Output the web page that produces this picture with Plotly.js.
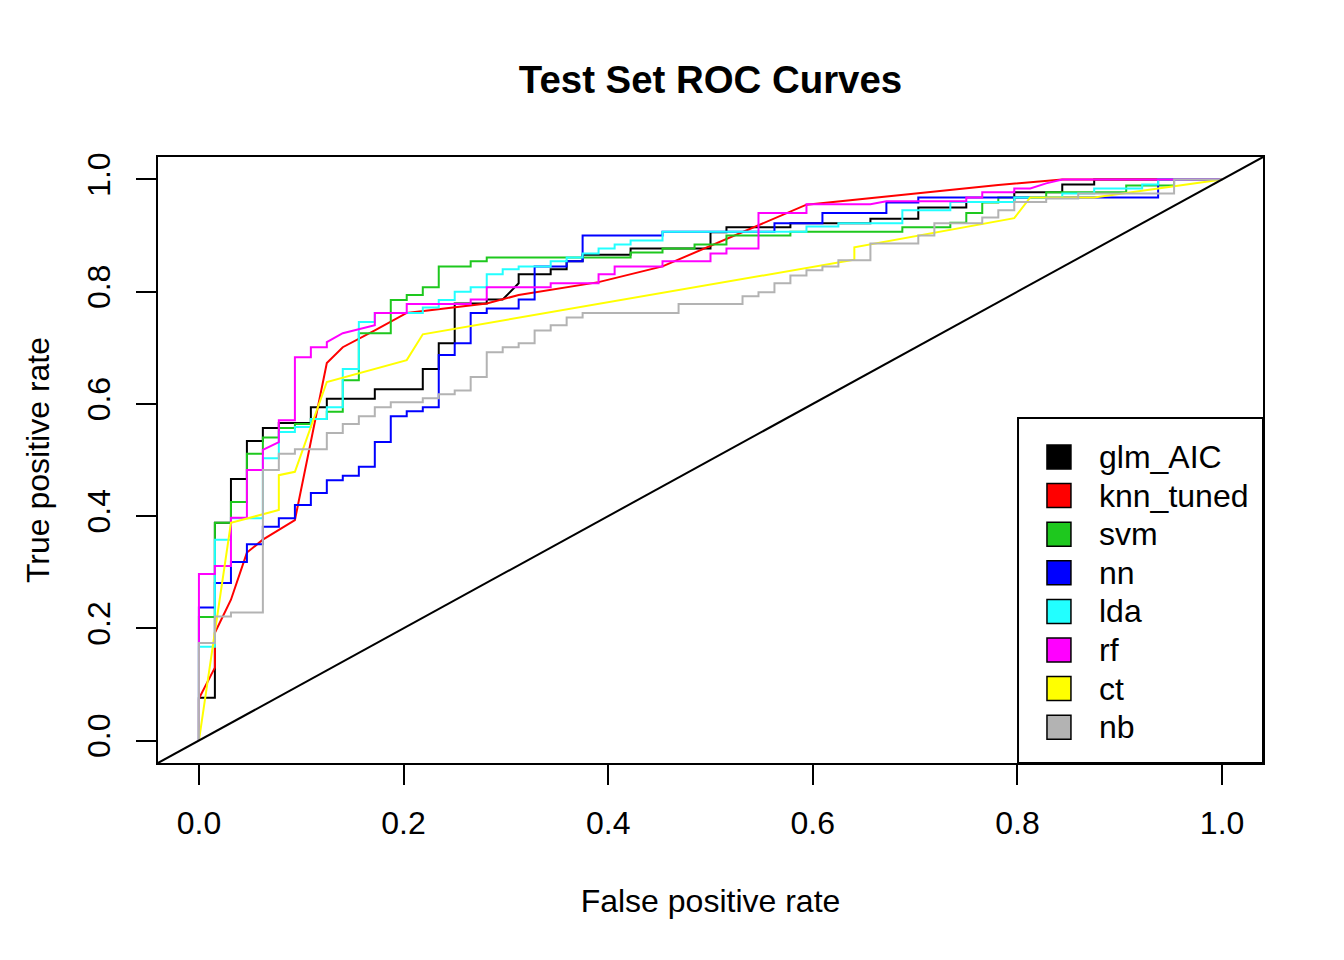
<!DOCTYPE html>
<html><head><meta charset="utf-8">
<script src="https://cdn.plot.ly/plotly-3.0.1.min.js"></script>
<style>html,body{margin:0;padding:0;background:#fff}#chart{width:1344px;height:960px}</style>
</head><body><div id="chart"></div>
<script>
// ---- data ----
const seriesNames = ["glm_AIC","knn_tuned","svm","nn","lda","rf","ct","nb"];
const seriesColors = ["#000000","#FF0000","#1EC81E","#0000FF","#22FFFF","#FF00FF","#FFFF00","#B3B3B3"];
const tickVals = [0,0.2,0.4,0.6,0.8,1.0];
const tickText = ["0.0","0.2","0.4","0.6","0.8","1.0"];
const axisRange = [-0.04,1.04];

// each entry: [false positive rate, true positive rate]
const glm = [[0,0],[0,0.0765],[0.0156,0.0765],[0.0156,0.388],[0.0313,0.388],[0.0313,0.466],[0.0469,0.466],[0.0469,0.534],[0.0625,0.534],[0.0625,0.557],[0.0781,0.557],[0.0781,0.566],[0.1094,0.566],[0.1094,0.594],[0.125,0.594],[0.125,0.609],[0.1719,0.609],[0.1719,0.626],[0.2188,0.626],[0.2188,0.662],[0.2344,0.662],[0.2344,0.708],[0.25,0.708],[0.25,0.779],[0.2813,0.779],[0.2813,0.786],[0.2969,0.786],[0.3125,0.815],[0.3125,0.831],[0.3438,0.831],[0.3438,0.84],[0.3594,0.84],[0.3594,0.854],[0.375,0.854],[0.375,0.866],[0.4219,0.866],[0.4219,0.877],[0.5,0.877],[0.5,0.906],[0.5156,0.906],[0.5156,0.915],[0.5781,0.915],[0.5781,0.922],[0.6563,0.922],[0.6563,0.93],[0.7031,0.93],[0.7031,0.95],[0.75,0.95],[0.75,0.96],[0.7969,0.96],[0.7969,0.977],[0.8438,0.977],[0.8438,0.991],[0.875,0.991],[0.875,1],[1,1]];
const knn = [[0,0],[0,0.075],[0.0156,0.13],[0.0156,0.192],[0.0313,0.251],[0.0469,0.335],[0.0625,0.358],[0.0938,0.393],[0.125,0.673],[0.1406,0.701],[0.1719,0.731],[0.2031,0.762],[0.2813,0.779],[0.3125,0.794],[0.3906,0.817],[0.4531,0.845],[0.5938,0.955],[0.7813,0.99],[0.8438,1],[1,1]];
const svm = [[0,0],[0,0.22],[0.0156,0.22],[0.0156,0.388],[0.0313,0.388],[0.0313,0.425],[0.0469,0.425],[0.0469,0.511],[0.0625,0.511],[0.0625,0.54],[0.0781,0.54],[0.0781,0.557],[0.0938,0.557],[0.0938,0.564],[0.1094,0.564],[0.1094,0.573],[0.125,0.573],[0.125,0.586],[0.1406,0.586],[0.1406,0.642],[0.1563,0.642],[0.1563,0.726],[0.1875,0.726],[0.1875,0.785],[0.2031,0.785],[0.2031,0.794],[0.2188,0.794],[0.2188,0.808],[0.2344,0.808],[0.2344,0.845],[0.2656,0.845],[0.2656,0.854],[0.2813,0.854],[0.2813,0.861],[0.4219,0.861],[0.4219,0.87],[0.4531,0.87],[0.4531,0.877],[0.4844,0.877],[0.4844,0.884],[0.5156,0.884],[0.5156,0.9],[0.5781,0.9],[0.5781,0.907],[0.6875,0.907],[0.6875,0.915],[0.7344,0.915],[0.7344,0.923],[0.75,0.923],[0.75,0.94],[0.7656,0.94],[0.7656,0.959],[0.7813,0.959],[0.7813,0.968],[0.8281,0.968],[0.8281,0.977],[0.9063,0.977],[0.9063,0.989],[0.9531,0.989],[0.9531,1],[1,1]];
const nn = [[0,0],[0,0.237],[0.0156,0.237],[0.0156,0.281],[0.0313,0.281],[0.0313,0.318],[0.0469,0.318],[0.0469,0.35],[0.0625,0.35],[0.0625,0.381],[0.0781,0.381],[0.0781,0.396],[0.0938,0.396],[0.0938,0.42],[0.1094,0.42],[0.1094,0.441],[0.125,0.441],[0.125,0.464],[0.1406,0.464],[0.1406,0.472],[0.1563,0.472],[0.1563,0.488],[0.1719,0.488],[0.1719,0.532],[0.1875,0.532],[0.1875,0.578],[0.2031,0.578],[0.2031,0.587],[0.2188,0.587],[0.2188,0.594],[0.2344,0.594],[0.2344,0.687],[0.25,0.687],[0.25,0.708],[0.2656,0.708],[0.2656,0.762],[0.2813,0.762],[0.2813,0.77],[0.3125,0.77],[0.3125,0.786],[0.3281,0.786],[0.3281,0.845],[0.3594,0.845],[0.3594,0.854],[0.375,0.854],[0.375,0.9],[0.4531,0.9],[0.4531,0.907],[0.5625,0.907],[0.5625,0.922],[0.6094,0.922],[0.6094,0.94],[0.6719,0.94],[0.6719,0.959],[0.7031,0.959],[0.7031,0.968],[0.9375,0.968],[0.9375,1],[1,1]];
const lda = [[0,0],[0,0.167],[0.0156,0.167],[0.0156,0.358],[0.0313,0.358],[0.0313,0.396],[0.0625,0.396],[0.0625,0.503],[0.0781,0.503],[0.0781,0.55],[0.0938,0.55],[0.0938,0.559],[0.1094,0.559],[0.1094,0.573],[0.125,0.573],[0.125,0.594],[0.1406,0.594],[0.1406,0.662],[0.1563,0.662],[0.1563,0.746],[0.1719,0.746],[0.1719,0.762],[0.2188,0.762],[0.2188,0.772],[0.2344,0.772],[0.2344,0.785],[0.25,0.785],[0.25,0.8],[0.2656,0.8],[0.2656,0.808],[0.2813,0.808],[0.2813,0.831],[0.2969,0.831],[0.2969,0.84],[0.3125,0.84],[0.3125,0.845],[0.3438,0.845],[0.3438,0.854],[0.3594,0.854],[0.3594,0.861],[0.375,0.861],[0.375,0.868],[0.3906,0.868],[0.3906,0.877],[0.4063,0.877],[0.4063,0.884],[0.4219,0.884],[0.4219,0.891],[0.4531,0.891],[0.4531,0.907],[0.5938,0.907],[0.5938,0.916],[0.625,0.916],[0.625,0.922],[0.6875,0.922],[0.6875,0.945],[0.7344,0.945],[0.7344,0.96],[0.7969,0.96],[0.7969,0.968],[0.8438,0.968],[0.8438,0.975],[0.875,0.975],[0.875,0.984],[0.9219,0.984],[0.9219,0.991],[0.9375,0.991],[0.9375,1],[1,1]];
const rf = [[0,0],[0,0.297],[0.0156,0.297],[0.0156,0.311],[0.0313,0.311],[0.0313,0.397],[0.0469,0.397],[0.0469,0.482],[0.0625,0.482],[0.0625,0.518],[0.0781,0.532],[0.0781,0.571],[0.0938,0.571],[0.0938,0.683],[0.1094,0.683],[0.1094,0.701],[0.125,0.701],[0.125,0.71],[0.1406,0.726],[0.1719,0.74],[0.1719,0.762],[0.2031,0.762],[0.2031,0.778],[0.2656,0.778],[0.2656,0.786],[0.2813,0.786],[0.2813,0.808],[0.3438,0.808],[0.3438,0.815],[0.3906,0.815],[0.3906,0.831],[0.4063,0.831],[0.4063,0.845],[0.4531,0.845],[0.4531,0.854],[0.5,0.854],[0.5,0.868],[0.5156,0.868],[0.5156,0.877],[0.5469,0.877],[0.5469,0.94],[0.5938,0.94],[0.5938,0.956],[0.6563,0.956],[0.6719,0.961],[0.75,0.961],[0.75,0.968],[0.7656,0.968],[0.7656,0.977],[0.7969,0.977],[0.7969,0.984],[0.8125,0.984],[0.8281,0.993],[0.8438,1],[1,1]];
const ct = [[0,0],[0.0313,0.388],[0.0781,0.411],[0.0781,0.473],[0.0938,0.479],[0.125,0.639],[0.2031,0.678],[0.2188,0.724],[0.6406,0.857],[0.6406,0.879],[0.7969,0.931],[0.8125,0.968],[0.875,0.968],[1,1]];
const nb = [[0,0],[0,0.174],[0.0156,0.174],[0.0156,0.221],[0.0313,0.221],[0.0313,0.228],[0.0625,0.228],[0.0625,0.482],[0.0781,0.482],[0.0781,0.511],[0.0938,0.511],[0.0938,0.519],[0.125,0.519],[0.125,0.548],[0.1406,0.548],[0.1406,0.564],[0.1563,0.564],[0.1563,0.578],[0.1719,0.578],[0.1719,0.594],[0.1875,0.594],[0.1875,0.603],[0.2188,0.603],[0.2188,0.61],[0.2344,0.61],[0.2344,0.617],[0.25,0.617],[0.25,0.624],[0.2656,0.624],[0.2656,0.648],[0.2813,0.648],[0.2813,0.692],[0.2969,0.692],[0.2969,0.701],[0.3125,0.701],[0.3125,0.708],[0.3281,0.708],[0.3281,0.731],[0.3438,0.731],[0.3438,0.74],[0.3594,0.74],[0.3594,0.754],[0.375,0.754],[0.375,0.762],[0.4688,0.762],[0.4688,0.778],[0.5313,0.778],[0.5313,0.792],[0.5469,0.792],[0.5469,0.799],[0.5625,0.799],[0.5625,0.815],[0.5781,0.815],[0.5781,0.829],[0.5938,0.829],[0.5938,0.838],[0.6094,0.838],[0.6094,0.845],[0.625,0.845],[0.625,0.856],[0.6563,0.856],[0.6563,0.886],[0.7031,0.886],[0.7031,0.9],[0.7188,0.9],[0.7188,0.922],[0.7656,0.922],[0.7656,0.932],[0.7813,0.932],[0.7813,0.945],[0.7969,0.945],[0.7969,0.96],[0.8281,0.96],[0.8281,0.966],[0.8594,0.966],[0.8594,0.975],[0.9531,0.975],[0.9531,1],[1,1]];

const curves = [glm, knn, svm, nn, lda, rf, ct, nb];

// ---- build ----
const FONT = "Liberation Sans, Arial, Helvetica, sans-serif";
const traces = curves.map((pts, i) => ({
  type: "scatter", mode: "lines", name: seriesNames[i],
  x: pts.map(p => p[0]), y: pts.map(p => p[1]),
  line: {color: seriesColors[i], width: 2}, showlegend: false, hoverinfo: "skip"
}));

const shapes = [{
  type: "line", xref: "x", yref: "y",
  x0: axisRange[0], y0: axisRange[0], x1: axisRange[1], y1: axisRange[1],
  line: {color: "#000", width: 2}
}];
const annotations = [];

// manual R-style legend (paper coordinates)
const leg = {x0: 0.7783, x1: 1.0, y0: 0.0, y1: 0.5693, firstY: 0.505, step: 0.0637,
             boxX0: 0.8045, boxX1: 0.8262, boxH: 0.0396, textX: 0.8498};
shapes.push({type: "rect", xref: "paper", yref: "paper", x0: leg.x0, x1: leg.x1, y0: leg.y0, y1: leg.y1,
             line: {color: "#000", width: 2}, fillcolor: "rgba(255,255,255,1)", layer: "above"});
seriesNames.forEach((nm, i) => {
  const cy = leg.firstY - i * leg.step;
  shapes.push({type: "rect", xref: "paper", yref: "paper", x0: leg.boxX0, x1: leg.boxX1,
               y0: cy - leg.boxH / 2, y1: cy + leg.boxH / 2,
               line: {color: "#000", width: 1.5}, fillcolor: seriesColors[i], layer: "above"});
  annotations.push({xref: "paper", yref: "paper", x: leg.textX, y: cy, xanchor: "left", yanchor: "middle",
                    text: nm, showarrow: false, font: {family: FONT, size: 32, color: "#000"}});
});

const axisCommon = {
  range: axisRange, tickvals: tickVals, ticktext: tickText,
  ticks: "outside", ticklen: 20, tickwidth: 2, tickcolor: "#000",
  showline: true, linewidth: 2, linecolor: "#000", mirror: true,
  showgrid: false, zeroline: false,
  tickfont: {family: FONT, size: 32, color: "#000"}
};

const layout = {
  width: 1344, height: 960,
  margin: {l: 158, r: 81, t: 157, b: 197},
  paper_bgcolor: "#fff", plot_bgcolor: "#fff",
  font: {family: FONT, color: "#000"},
  title: {text: "<b>Test Set ROC Curves</b>", font: {family: FONT, size: 38.4, color: "#000"},
          x: 0.5, xref: "paper", xanchor: "center", y: 1 - 80 / 960, yref: "container", yanchor: "middle"},
  xaxis: Object.assign({}, axisCommon, {
    ticklabelstandoff: 11,
    title: {text: "False positive rate", font: {family: FONT, size: 32, color: "#000"}, standoff: 49}
  }),
  yaxis: Object.assign({}, axisCommon, {
    tickangle: -90, ticklabelstandoff: 13,
    title: {text: "True positive rate", font: {family: FONT, size: 32, color: "#000"}, standoff: 22}
  }),
  shapes: shapes, annotations: annotations, showlegend: false
};

Plotly.newPlot("chart", traces, layout, {displayModeBar: false, staticPlot: true});
</script>
</body></html>
